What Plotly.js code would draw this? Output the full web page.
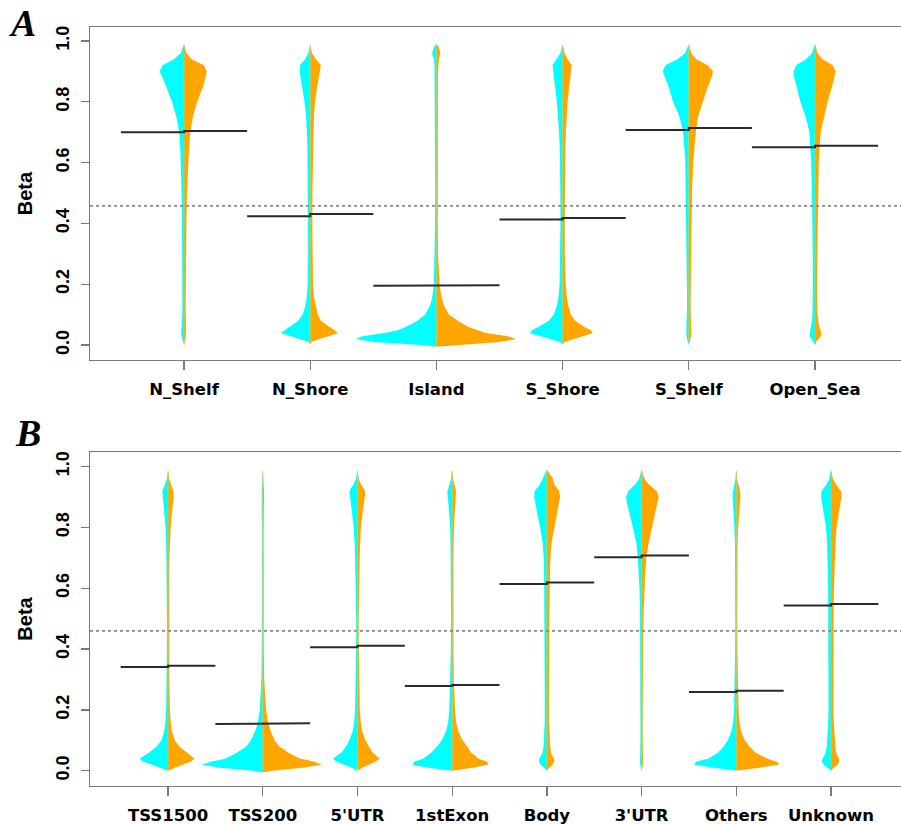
<!DOCTYPE html>
<html>
<head>
<meta charset="utf-8">
<script src="https://cdn.plot.ly/plotly-3.0.1.min.js"></script>
<style>
html,body{margin:0;padding:0;background:#fff;overflow:hidden;}
#chart{width:908px;height:824px;}
</style>
</head>
<body>
<div id="chart"></div>
<script>
// ---------- DATA ----------
// Panel A: relation to CpG island
const catsA = ["N_Shelf", "N_Shore", "Island", "S_Shore", "S_Shelf", "Open_Sea"];
// Panel B: gene region
const catsB = ["TSS1500", "TSS200", "5'UTR", "1stExon", "Body", "3'UTR", "Others", "Unknown"];

// Beta grid on which the density half-widths (fraction of category spacing) are read
const betaGrid = [-0.005, 0.0, 0.01, 0.02, 0.03, 0.04, 0.05, 0.06, 0.08, 0.10, 0.13, 0.16, 0.20, 0.30, 0.40, 0.50, 0.60, 0.65, 0.70, 0.75, 0.80, 0.85, 0.88, 0.90, 0.92, 0.94, 0.96, 0.98, 0.99];

// Panel A densities: left half (cyan group) and right half (orange group)
const densA_left = [
  [0, 0, 0.008, 0.016, 0.02, 0.022, 0.02, 0.018, 0.015, 0.014, 0.013, 0.013, 0.013, 0.015, 0.016, 0.019, 0.024, 0.03, 0.038, 0.06, 0.095, 0.14, 0.17, 0.193, 0.17, 0.08, 0.025, 0.01, 0],
  [0, 0, 0.01, 0.08, 0.16, 0.235, 0.2, 0.165, 0.095, 0.06, 0.038, 0.027, 0.02, 0.016, 0.016, 0.017, 0.02, 0.022, 0.026, 0.032, 0.045, 0.065, 0.078, 0.084, 0.082, 0.04, 0.015, 0.005, 0],
  [0, 0.12, 0.49, 0.64, 0.58, 0.41, 0.3, 0.24, 0.15, 0.09, 0.05, 0.032, 0.02, 0.013, 0.011, 0.01, 0.01, 0.01, 0.01, 0.01, 0.01, 0.011, 0.012, 0.013, 0.015, 0.02, 0.035, 0.02, 0],
  [0, 0, 0.02, 0.1, 0.19, 0.26, 0.24, 0.19, 0.11, 0.07, 0.045, 0.032, 0.024, 0.018, 0.017, 0.018, 0.02, 0.023, 0.028, 0.035, 0.045, 0.06, 0.07, 0.078, 0.08, 0.05, 0.018, 0.006, 0],
  [0, 0, 0.008, 0.015, 0.018, 0.02, 0.019, 0.017, 0.015, 0.014, 0.014, 0.014, 0.015, 0.016, 0.018, 0.022, 0.028, 0.035, 0.045, 0.073, 0.125, 0.16, 0.19, 0.207, 0.185, 0.09, 0.03, 0.01, 0],
  [0, 0, 0.012, 0.03, 0.042, 0.04, 0.035, 0.03, 0.024, 0.02, 0.018, 0.017, 0.017, 0.018, 0.02, 0.024, 0.03, 0.036, 0.044, 0.073, 0.116, 0.145, 0.165, 0.17, 0.15, 0.07, 0.025, 0.008, 0]
];
const densA_right = [
  [0, 0, 0.006, 0.012, 0.016, 0.017, 0.017, 0.016, 0.014, 0.013, 0.013, 0.014, 0.014, 0.016, 0.019, 0.024, 0.032, 0.04, 0.05, 0.07, 0.105, 0.15, 0.17, 0.18, 0.157, 0.06, 0.02, 0.008, 0],
  [0, 0, 0.008, 0.07, 0.15, 0.22, 0.19, 0.15, 0.085, 0.06, 0.045, 0.03, 0.022, 0.018, 0.017, 0.018, 0.02, 0.022, 0.026, 0.03, 0.038, 0.055, 0.07, 0.078, 0.085, 0.045, 0.015, 0.005, 0],
  [0, 0.15, 0.5, 0.63, 0.56, 0.39, 0.31, 0.25, 0.17, 0.1, 0.06, 0.04, 0.025, 0.013, 0.011, 0.01, 0.01, 0.01, 0.01, 0.01, 0.01, 0.011, 0.012, 0.013, 0.015, 0.02, 0.03, 0.02, 0],
  [0, 0, 0.015, 0.09, 0.17, 0.24, 0.22, 0.17, 0.1, 0.065, 0.045, 0.033, 0.025, 0.018, 0.017, 0.018, 0.02, 0.022, 0.026, 0.032, 0.04, 0.052, 0.06, 0.068, 0.073, 0.04, 0.015, 0.005, 0],
  [0, 0, 0.008, 0.015, 0.018, 0.02, 0.019, 0.017, 0.015, 0.014, 0.014, 0.015, 0.016, 0.018, 0.02, 0.025, 0.035, 0.045, 0.055, 0.073, 0.11, 0.15, 0.18, 0.193, 0.15, 0.06, 0.02, 0.008, 0],
  [0, 0, 0.01, 0.03, 0.048, 0.05, 0.042, 0.035, 0.026, 0.02, 0.018, 0.017, 0.017, 0.019, 0.021, 0.025, 0.03, 0.036, 0.044, 0.073, 0.1, 0.135, 0.155, 0.164, 0.14, 0.06, 0.02, 0.008, 0]
];
const meanA_left  = [0.700, 0.424, 0.195, 0.413, 0.707, 0.651];
const meanA_right = [0.704, 0.431, 0.197, 0.418, 0.714, 0.656];
const overallA = 0.458;

// Panel B densities
const densB_left = [
  [0, 0, 0.08, 0.17, 0.26, 0.30, 0.25, 0.2, 0.12, 0.07, 0.04, 0.028, 0.02, 0.014, 0.012, 0.011, 0.012, 0.013, 0.015, 0.02, 0.026, 0.038, 0.05, 0.058, 0.06, 0.035, 0.012, 0.004, 0],
  [0, 0.1, 0.45, 0.64, 0.55, 0.4, 0.33, 0.27, 0.175, 0.125, 0.08, 0.05, 0.032, 0.015, 0.01, 0.008, 0.008, 0.008, 0.008, 0.008, 0.009, 0.011, 0.013, 0.015, 0.015, 0.01, 0.005, 0.003, 0],
  [0, 0, 0.06, 0.14, 0.22, 0.26, 0.22, 0.17, 0.12, 0.085, 0.05, 0.035, 0.025, 0.017, 0.014, 0.013, 0.016, 0.02, 0.025, 0.03, 0.04, 0.058, 0.072, 0.082, 0.085, 0.045, 0.015, 0.005, 0],
  [0, 0, 0.25, 0.42, 0.40, 0.31, 0.26, 0.22, 0.16, 0.11, 0.065, 0.042, 0.03, 0.018, 0.014, 0.012, 0.012, 0.013, 0.015, 0.017, 0.021, 0.03, 0.04, 0.048, 0.05, 0.03, 0.012, 0.004, 0],
  [0, 0, 0.03, 0.065, 0.084, 0.08, 0.06, 0.045, 0.035, 0.03, 0.025, 0.023, 0.022, 0.022, 0.023, 0.025, 0.028, 0.03, 0.033, 0.045, 0.07, 0.105, 0.125, 0.133, 0.13, 0.075, 0.045, 0.012, 0],
  [0, 0, 0.008, 0.015, 0.018, 0.017, 0.015, 0.013, 0.012, 0.012, 0.012, 0.012, 0.012, 0.013, 0.014, 0.016, 0.022, 0.03, 0.04, 0.055, 0.09, 0.13, 0.155, 0.164, 0.14, 0.07, 0.025, 0.008, 0],
  [0, 0, 0.24, 0.44, 0.43, 0.3, 0.24, 0.19, 0.135, 0.09, 0.05, 0.033, 0.024, 0.015, 0.012, 0.011, 0.011, 0.011, 0.012, 0.014, 0.02, 0.03, 0.036, 0.039, 0.035, 0.02, 0.008, 0.003, 0],
  [0, 0, 0.035, 0.075, 0.095, 0.09, 0.07, 0.055, 0.045, 0.04, 0.033, 0.03, 0.026, 0.025, 0.026, 0.028, 0.03, 0.033, 0.036, 0.042, 0.052, 0.075, 0.095, 0.105, 0.1, 0.05, 0.018, 0.006, 0]
];
const densB_right = [
  [0, 0, 0.07, 0.15, 0.24, 0.28, 0.24, 0.19, 0.12, 0.07, 0.04, 0.028, 0.02, 0.014, 0.012, 0.011, 0.012, 0.013, 0.015, 0.02, 0.028, 0.042, 0.055, 0.06, 0.055, 0.035, 0.012, 0.004, 0],
  [0, 0.1, 0.42, 0.62, 0.55, 0.4, 0.33, 0.27, 0.175, 0.125, 0.085, 0.055, 0.035, 0.016, 0.01, 0.008, 0.008, 0.008, 0.008, 0.008, 0.009, 0.011, 0.013, 0.014, 0.014, 0.009, 0.005, 0.003, 0],
  [0, 0, 0.05, 0.12, 0.19, 0.235, 0.2, 0.16, 0.12, 0.085, 0.05, 0.035, 0.025, 0.017, 0.014, 0.013, 0.016, 0.02, 0.024, 0.03, 0.036, 0.055, 0.07, 0.078, 0.08, 0.04, 0.013, 0.005, 0],
  [0, 0, 0.22, 0.38, 0.37, 0.28, 0.24, 0.2, 0.16, 0.11, 0.065, 0.042, 0.03, 0.018, 0.014, 0.012, 0.012, 0.013, 0.014, 0.016, 0.02, 0.027, 0.035, 0.04, 0.04, 0.025, 0.01, 0.004, 0],
  [0, 0, 0.025, 0.06, 0.08, 0.075, 0.055, 0.045, 0.035, 0.03, 0.025, 0.023, 0.022, 0.022, 0.023, 0.026, 0.03, 0.033, 0.037, 0.05, 0.08, 0.112, 0.13, 0.14, 0.13, 0.08, 0.065, 0.02, 0],
  [0, 0, 0.008, 0.015, 0.018, 0.017, 0.015, 0.013, 0.012, 0.012, 0.012, 0.012, 0.013, 0.014, 0.016, 0.02, 0.028, 0.038, 0.05, 0.075, 0.11, 0.148, 0.172, 0.18, 0.16, 0.08, 0.03, 0.01, 0],
  [0, 0, 0.24, 0.45, 0.43, 0.33, 0.26, 0.2, 0.14, 0.09, 0.05, 0.033, 0.024, 0.015, 0.012, 0.011, 0.011, 0.011, 0.012, 0.014, 0.02, 0.032, 0.04, 0.044, 0.04, 0.022, 0.008, 0.003, 0],
  [0, 0, 0.03, 0.07, 0.088, 0.085, 0.068, 0.055, 0.045, 0.04, 0.033, 0.03, 0.026, 0.025, 0.026, 0.028, 0.031, 0.035, 0.04, 0.048, 0.058, 0.08, 0.1, 0.11, 0.105, 0.055, 0.02, 0.006, 0]
];
const meanB_left  = [0.341, 0.154, 0.406, 0.279, 0.614, 0.702, 0.259, 0.543];
const meanB_right = [0.345, 0.156, 0.411, 0.282, 0.619, 0.708, 0.263, 0.548];
const overallB = 0.460;

// ---------- STYLE ----------
const CYAN = "#00FFFF", ORANGE = "#FFA500";
const AXIS_COL = "#7a7a7a";

// ---------- BUILD ----------
const traces = [];
function halfViolin(pos, dens, side, color, xa, ya) {
  // side = -1 for left, +1 for right
  const xs = [], ys = [];
  for (let i = 0; i < betaGrid.length; i++) {
    xs.push(pos + side * dens[i]);
    ys.push(betaGrid[i]);
  }
  xs.push(pos); ys.push(betaGrid[betaGrid.length - 1]);
  xs.unshift(pos); ys.unshift(betaGrid[0]);
  traces.push({type: "scatter", mode: "lines", x: xs, y: ys, fill: "toself",
    fillcolor: color, line: {width: 0, color: color}, xaxis: xa, yaxis: ya,
    hoverinfo: "skip", showlegend: false});
}
function addPanel(cats, dl, dr, ml, mr, overall, xa, ya, nRange) {
  cats.forEach((c, i) => {
    const p = i + 1;
    halfViolin(p, dl[i], -1, CYAN, xa, ya);
    halfViolin(p, dr[i], +1, ORANGE, xa, ya);
  });
  // thin centre line of each bean
  cats.forEach((c, i) => {
    const p = i + 1;
    traces.push({type: "scatter", mode: "lines", x: [p, p], y: [0.01, 0.985],
      line: {width: 1, color: "rgba(160,215,120,0.85)"}, xaxis: xa, yaxis: ya,
      hoverinfo: "skip", showlegend: false});
  });
  // overall mean dotted line
  traces.push({type: "scatter", mode: "lines", x: nRange, y: [overall, overall],
    line: {width: 1.6, color: "#888888", dash: "dot"}, xaxis: xa, yaxis: ya,
    hoverinfo: "skip", showlegend: false});
  // group means (left / right halves)
  cats.forEach((c, i) => {
    const p = i + 1;
    traces.push({type: "scatter", mode: "lines",
      x: [p - 0.5, p, p, p + 0.5], y: [ml[i], ml[i], mr[i], mr[i]],
      line: {width: 2, color: "#2a2a2a"}, xaxis: xa, yaxis: ya,
      hoverinfo: "skip", showlegend: false});
  });
}
const rangeXA = [0.255, 6.737];
const rangeXB = [0.176, 8.813];
addPanel(catsA, densA_left, densA_right, meanA_left, meanA_right, overallA, "x", "y", rangeXA);
addPanel(catsB, densB_left, densB_right, meanB_left, meanB_right, overallB, "x2", "y2", rangeXB);

const yTicks = [0, 0.2, 0.4, 0.6, 0.8, 1.0];
const yTickText = ["0.0", "0.2", "0.4", "0.6", "0.8", "1.0"];
const tickFontY = {family: "Liberation Sans", size: 18, weight: "bold", color: "#000"};
const tickFontX = {family: "DejaVu Sans", size: 16.5, weight: "bold", color: "#000"};

function xAxis(cats, range, anchor) {
  return {anchor: anchor, domain: [0, 1], range: range, tickmode: "array",
    tickvals: cats.map((c, i) => i + 1), ticktext: cats,
    ticks: "outside", ticklen: 9, tickcolor: AXIS_COL, tickwidth: 1.3,
    showline: true, mirror: true, linecolor: AXIS_COL, linewidth: 1.3,
    showgrid: false, zeroline: false, tickfont: tickFontX, ticklabelstandoff: 5,
    fixedrange: true};
}
function yAxis(domain, range, anchor) {
  return {anchor: anchor, domain: domain, range: range, tickmode: "array",
    tickvals: yTicks, ticktext: yTickText, tickangle: -90,
    ticks: "outside", ticklen: 8, tickcolor: AXIS_COL, tickwidth: 1.3,
    showline: true, mirror: false, linecolor: AXIS_COL, linewidth: 1.3,
    showgrid: false, zeroline: false, tickfont: tickFontY, ticklabelstandoff: 5,
    title: {text: "Beta", font: {family: "Liberation Sans", size: 20, weight: "bold", color: "#000"}, standoff: 14},
    fixedrange: true};
}

const layout = {
  width: 908, height: 824,
  margin: {l: 90, r: 0, t: 0, b: 0},
  paper_bgcolor: "#fff", plot_bgcolor: "#fff",
  showlegend: false,
  xaxis: xAxis(catsA, rangeXA, "y"),
  yaxis: yAxis([0.5631, 0.9672], [-0.049, 1.046], "x"),
  xaxis2: xAxis(catsB, rangeXB, "y2"),
  yaxis2: yAxis([0.0461, 0.4515], [-0.050, 1.048], "x2"),
  annotations: [
    {text: "A", xref: "paper", yref: "paper", x: -0.082, y: 0.972, xanchor: "center", yanchor: "middle",
     showarrow: false, font: {family: "Liberation Serif", size: 38, weight: "bold", style: "italic", color: "#000"}},
    {text: "B", xref: "paper", yref: "paper", x: -0.076, y: 0.474, xanchor: "center", yanchor: "middle",
     showarrow: false, font: {family: "Liberation Serif", size: 38, weight: "bold", style: "italic", color: "#000"}}
  ]
};

Plotly.newPlot("chart", traces, layout, {displayModeBar: false, staticPlot: true});
</script>
</body>
</html>
